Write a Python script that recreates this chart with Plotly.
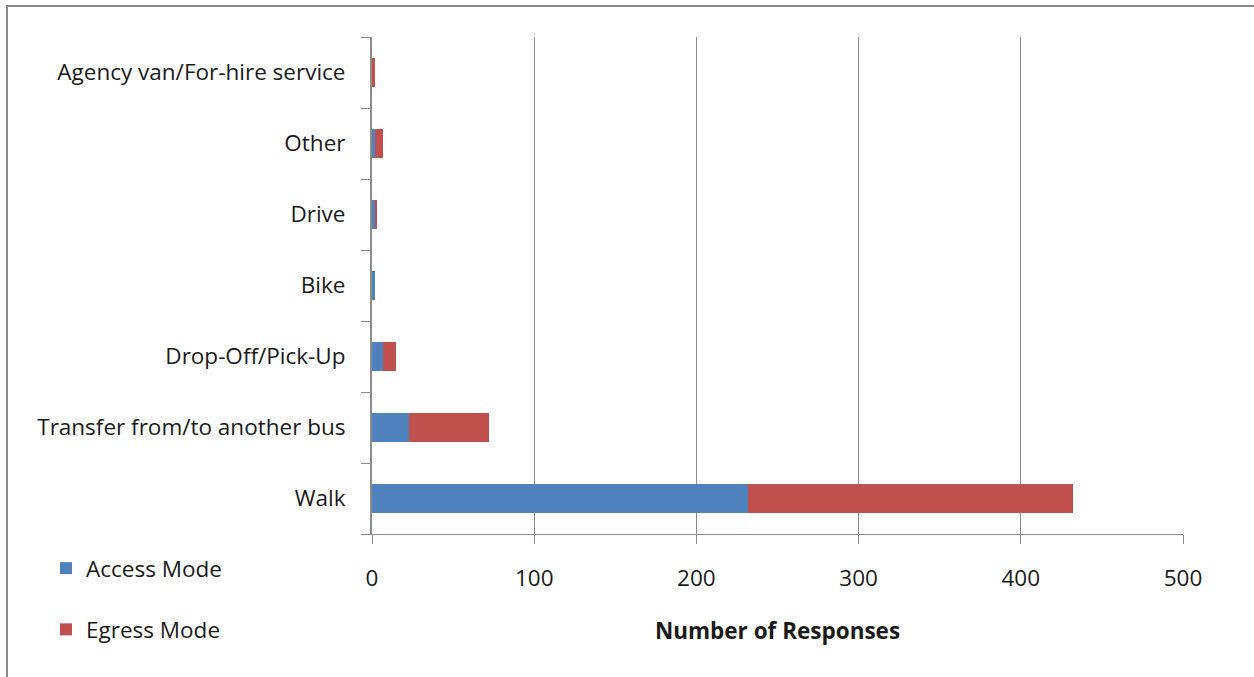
import plotly.graph_objects as go

# Survey responses by trip-end mode
categories = [
    "Walk",
    "Transfer from/to another bus",
    "Drop-Off/Pick-Up",
    "Bike",
    "Drive",
    "Other",
    "Agency van/For-hire service",
]
access_mode = [232, 23, 7, 2, 2, 2, 0]
egress_mode = [200, 49, 8, 0, 1, 5, 2]
x_ticks = [0, 100, 200, 300, 400, 500]

FONT = "Open Sans"
FSIZE = 22.5
TEXT = "#1a1a1a"
GRID = "#8c8c8c"

W, H = 1254, 677
L, R, T, B = 372, 71, 37, 143
pw, ph = W - L - R, H - T - B


def px_x(p):
    return (p - L) / pw


def px_y(p):
    return (H - B - p) / ph


fig = go.Figure()
fig.add_trace(go.Bar(
    y=categories, x=access_mode, orientation="h", name="Access Mode",
    marker=dict(color="#4f81bd", line=dict(width=0)), legendgroup="a",
))
fig.add_trace(go.Bar(
    y=categories, x=egress_mode, orientation="h", name="Egress Mode",
    marker=dict(color="#c0504d", line=dict(width=0)), legendgroup="b",
))

fig.update_layout(
    width=W, height=H,
    margin=dict(l=L, r=R, t=T, b=B, pad=0),
    barmode="stack", bargap=0.6,
    paper_bgcolor="white", plot_bgcolor="white",
    font=dict(family=FONT, size=FSIZE, color=TEXT),
    legend=dict(
        x=px_x(46), y=px_y(547), xanchor="left", yanchor="top",
        traceorder="grouped", tracegroupgap=29,
        font=dict(family=FONT, size=FSIZE, color=TEXT),
        itemwidth=30, bgcolor="rgba(0,0,0,0)",
    ),
    xaxis=dict(
        range=[0, 500], tickvals=x_ticks, ticktext=[str(v) for v in x_ticks],
        showgrid=True, gridcolor=GRID, gridwidth=1,
        showline=True, linecolor=GRID, linewidth=1,
        ticks="outside", ticklen=9, tickcolor=GRID,
        ticklabelstandoff=15, zeroline=False,
        title=dict(text="<b>Number of Responses</b>", standoff=31,
                   font=dict(family=FONT, size=FSIZE, color=TEXT)),
        fixedrange=True,
    ),
    yaxis=dict(
        categoryorder="array", categoryarray=categories,
        showgrid=False, showline=True, linecolor=GRID, linewidth=2,
        ticks="outside", ticklen=9, tickcolor=GRID, tickson="boundaries",
        ticklabelstandoff=20, zeroline=False,
        fixedrange=True,
    ),
    shapes=[
        dict(type="line", xref="paper", yref="paper",
             x0=px_x(7), x1=px_x(7), y0=px_y(5), y1=px_y(H + 10),
             line=dict(color="#8a8a8a", width=2)),
        dict(type="line", xref="paper", yref="paper",
             x0=px_x(6), x1=px_x(W + 10), y0=px_y(6), y1=px_y(6),
             line=dict(color="#8a8a8a", width=2)),
    ],
)

fig.write_html("out.html")
